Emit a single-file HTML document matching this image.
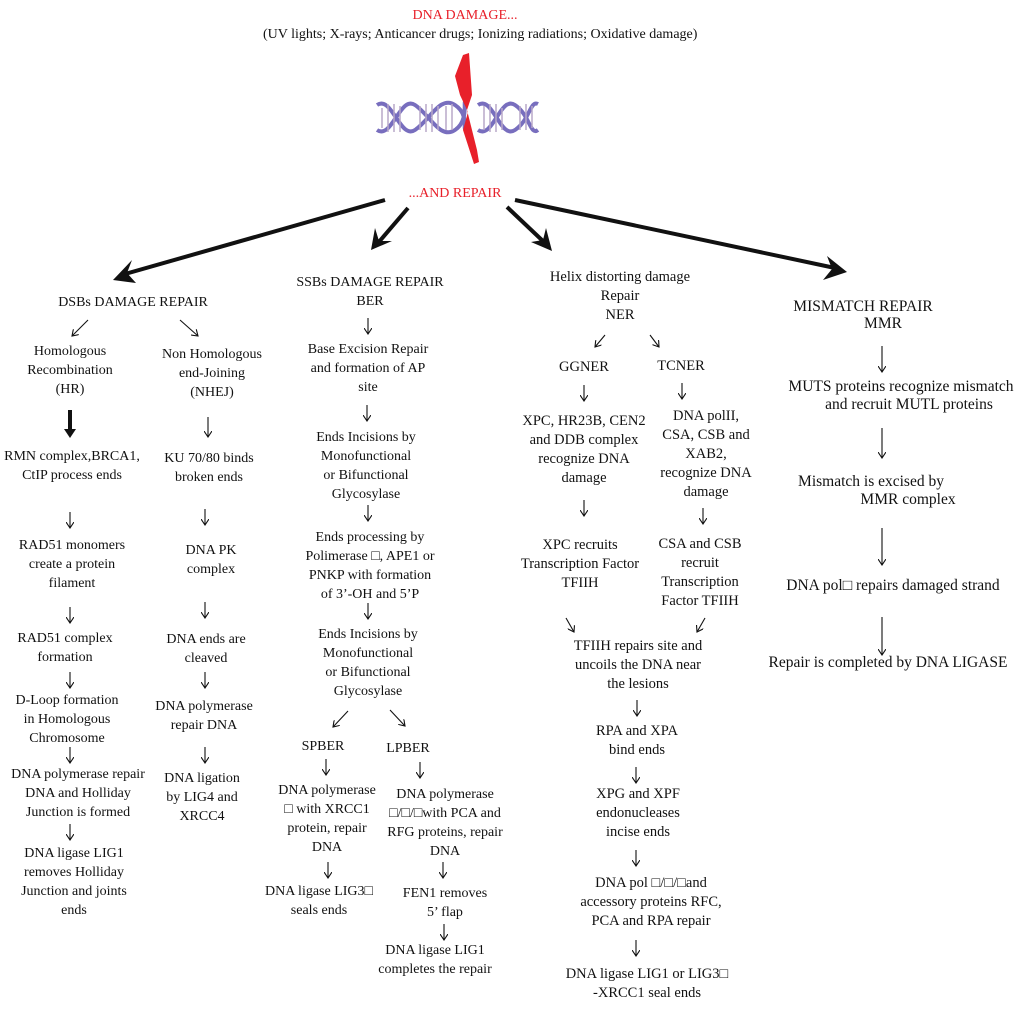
<!DOCTYPE html>
<html><head><meta charset="utf-8"><style>
body{margin:0;background:#fff;}
#c{position:relative;width:1024px;height:1009px;overflow:hidden;font-family:"Liberation Serif",serif;font-size:14px;color:#111;}
.t{position:absolute;width:300px;text-align:center;line-height:19px;white-space:nowrap;}
.m{font-size:15.5px;}
.n{font-size:14.5px;}
svg{position:absolute;left:0;top:0;}
</style></head><body><div id="c">
<svg width="1024" height="1009">
<defs>
<marker id="a" markerWidth="8" markerHeight="8" refX="6" refY="4" orient="auto" markerUnits="userSpaceOnUse"><path d="M0,0 L6,4 L0,8" fill="none" stroke="#111" stroke-width="1.1"/></marker>
</defs>
<g fill="none" stroke-width="4" stroke="#6a5fb8" opacity="0.9">
<path d="M377,105 C392,95 400,140 415,130 S440,95 455,105 S462,132 466,128"/>
<path d="M377,130 C392,140 400,95 415,105 S440,140 455,130 S462,98 466,102"/>
<path d="M478,105 C493,95 500,140 515,130 S530,100 538,104"/>
<path d="M478,130 C493,140 500,95 515,105 S530,136 538,130"/>
</g>
<g stroke="#b8a8c8" stroke-width="1.5">
<path d="M382,108v20M388,104v28M394,104v28M400,106v26M420,106v24M426,104v28M432,104v28M438,106v24M446,106v24M452,104v26M484,106v24M490,104v28M496,104v28M502,108v22M520,106v24M526,104v26M532,106v22"/>
</g>
<polygon points="463,55 469,53 472,95 467,110 477,150 479,162 474,164 463,130 468,112 460,95 455,76" fill="#e8202a"/>
<g stroke="#111" stroke-width="4" fill="none">
<line x1="385" y1="200" x2="125" y2="274"/>
<line x1="408" y1="208" x2="378" y2="243"/>
<line x1="507" y1="207" x2="545" y2="243"/>
<line x1="515" y1="200" x2="835" y2="268"/>
</g>
<g fill="#111">
<polygon points="113,280 132,260 127,273 136,283"/>
<polygon points="371,250 375,228 379,241 392,241"/>
<polygon points="552,251 531,242 543,240 546,228"/>
<polygon points="847,272 823,280 832,269 827,256"/>
</g>
<g stroke="#111" stroke-width="1.1" marker-end="url(#a)">
<line x1="88" y1="320" x2="72" y2="336"/>
<line x1="180" y1="320" x2="198" y2="336"/>
<line x1="208" y1="417" x2="208" y2="437"/>
<line x1="70" y1="512" x2="70" y2="528"/>
<line x1="205" y1="509" x2="205" y2="525"/>
<line x1="70" y1="607" x2="70" y2="623"/>
<line x1="205" y1="602" x2="205" y2="618"/>
<line x1="70" y1="672" x2="70" y2="688"/>
<line x1="205" y1="672" x2="205" y2="688"/>
<line x1="70" y1="747" x2="70" y2="763"/>
<line x1="205" y1="747" x2="205" y2="763"/>
<line x1="70" y1="824" x2="70" y2="840"/>
<line x1="368" y1="318" x2="368" y2="334"/>
<line x1="367" y1="405" x2="367" y2="421"/>
<line x1="368" y1="505" x2="368" y2="521"/>
<line x1="368" y1="603" x2="368" y2="619"/>
<line x1="348" y1="711" x2="333" y2="727"/>
<line x1="390" y1="710" x2="405" y2="726"/>
<line x1="326" y1="759" x2="326" y2="775"/>
<line x1="420" y1="762" x2="420" y2="778"/>
<line x1="328" y1="862" x2="328" y2="878"/>
<line x1="443" y1="862" x2="443" y2="878"/>
<line x1="444" y1="924" x2="444" y2="940"/>
<line x1="605" y1="335" x2="595" y2="347"/>
<line x1="650" y1="335" x2="659" y2="347"/>
<line x1="584" y1="385" x2="584" y2="401"/>
<line x1="682" y1="383" x2="682" y2="399"/>
<line x1="584" y1="500" x2="584" y2="516"/>
<line x1="703" y1="508" x2="703" y2="524"/>
<line x1="566" y1="618" x2="574" y2="632"/>
<line x1="705" y1="618" x2="697" y2="632"/>
<line x1="637" y1="700" x2="637" y2="716"/>
<line x1="636" y1="767" x2="636" y2="783"/>
<line x1="636" y1="850" x2="636" y2="866"/>
<line x1="636" y1="940" x2="636" y2="956"/>
<line x1="882" y1="346" x2="882" y2="372"/>
<line x1="882" y1="428" x2="882" y2="458"/>
<line x1="882" y1="528" x2="882" y2="565"/>
<line x1="882" y1="617" x2="882" y2="655"/>
</g>
<line x1="70" y1="410" x2="70" y2="430" stroke="#111" stroke-width="4"/>
<polygon points="64,429 76,429 70,438" fill="#111"/>
</svg>

<div class="t" style="left:315px;top:6px;color:#e8202a">DNA DAMAGE...</div>
<div class="t" style="left:263px;top:25px;width:400px">(UV lights; X-rays; Anticancer drugs; Ionizing radiations; Oxidative damage)</div>
<div class="t" style="left:305px;top:184px;color:#e8202a">...AND REPAIR</div>

<div class="t" style="left:-17px;top:293px">DSBs DAMAGE REPAIR</div>
<div class="t" style="left:-80px;top:342px">Homologous<br>Recombination<br>(HR)</div>
<div class="t" style="left:62px;top:345px">Non Homologous<br>end-Joining<br>(NHEJ)</div>
<div class="t" style="left:-78px;top:447px">RMN complex,BRCA1,<br>CtIP process ends</div>
<div class="t" style="left:59px;top:449px">KU 70/80 binds<br>broken ends</div>
<div class="t" style="left:-78px;top:536px">RAD51 monomers<br>create a protein<br>filament</div>
<div class="t" style="left:61px;top:541px">DNA PK<br>complex</div>
<div class="t" style="left:-85px;top:629px">RAD51 complex<br>formation</div>
<div class="t" style="left:56px;top:630px">DNA ends are<br>cleaved</div>
<div class="t" style="left:-83px;top:691px">D-Loop formation<br>in Homologous<br>Chromosome</div>
<div class="t" style="left:54px;top:697px">DNA polymerase<br>repair DNA</div>
<div class="t" style="left:-72px;top:765px">DNA polymerase repair<br>DNA and Holliday<br>Junction is formed</div>
<div class="t" style="left:52px;top:769px">DNA ligation<br>by LIG4 and<br>XRCC4</div>
<div class="t" style="left:-76px;top:844px">DNA ligase LIG1<br>removes Holliday<br>Junction and joints<br>ends</div>

<div class="t" style="left:220px;top:273px">SSBs DAMAGE REPAIR<br>BER</div>
<div class="t" style="left:218px;top:340px">Base Excision Repair<br>and formation of AP<br>site</div>
<div class="t" style="left:216px;top:428px">Ends Incisions by<br>Monofunctional<br>or Bifunctional<br>Glycosylase</div>
<div class="t" style="left:220px;top:528px">Ends processing by<br>Polimerase □, APE1 or<br>PNKP with formation<br>of 3’-OH and 5’P</div>
<div class="t" style="left:218px;top:625px">Ends Incisions by<br>Monofunctional<br>or Bifunctional<br>Glycosylase</div>
<div class="t" style="left:173px;top:737px">SPBER</div>
<div class="t" style="left:258px;top:739px">LPBER</div>
<div class="t" style="left:177px;top:781px">DNA polymerase<br>□ with XRCC1<br>protein, repair<br>DNA</div>
<div class="t" style="left:295px;top:785px">DNA polymerase<br>□/□/□with PCA and<br>RFG proteins, repair<br>DNA</div>
<div class="t" style="left:169px;top:882px">DNA ligase LIG3□<br>seals ends</div>
<div class="t" style="left:295px;top:884px">FEN1 removes<br>5’ flap</div>
<div class="t" style="left:285px;top:941px">DNA ligase LIG1<br>completes the repair</div>

<div class="t n" style="left:470px;top:268px">Helix distorting damage<br>Repair<br>NER</div>
<div class="t n" style="left:434px;top:358px">GGNER</div>
<div class="t n" style="left:531px;top:357px">TCNER</div>
<div class="t n" style="left:434px;top:412px">XPC, HR23B, CEN2<br>and DDB complex<br>recognize DNA<br>damage</div>
<div class="t n" style="left:556px;top:407px">DNA polII,<br>CSA, CSB and<br>XAB2,<br>recognize DNA<br>damage</div>
<div class="t n" style="left:430px;top:536px">XPC recruits<br>Transcription Factor<br>TFIIH</div>
<div class="t n" style="left:550px;top:535px">CSA and CSB<br>recruit<br>Transcription<br>Factor TFIIH</div>
<div class="t n" style="left:488px;top:637px">TFIIH repairs site and<br>uncoils the DNA near<br>the lesions</div>
<div class="t n" style="left:487px;top:722px">RPA and XPA<br>bind ends</div>
<div class="t n" style="left:488px;top:785px">XPG and XPF<br>endonucleases<br>incise ends</div>
<div class="t n" style="left:501px;top:874px">DNA pol □/□/□and<br>accessory proteins RFC,<br>PCA and RPA repair</div>
<div class="t n" style="left:497px;top:965px">DNA ligase LIG1 or LIG3□<br>-XRCC1 seal ends</div>

<div class="t m" style="left:713px;top:297px">MISMATCH REPAIR</div>
<div class="t m" style="left:733px;top:314px">MMR</div>
<div class="t m" style="left:751px;top:377px">MUTS proteins recognize mismatch</div>
<div class="t m" style="left:759px;top:395px">and recruit MUTL proteins</div>
<div class="t m" style="left:721px;top:472px">Mismatch is excised by</div>
<div class="t m" style="left:758px;top:490px">MMR complex</div>
<div class="t m" style="left:743px;top:576px">DNA pol□ repairs damaged strand</div>
<div class="t m" style="left:738px;top:653px">Repair is completed by DNA LIGASE</div>
</div></body></html>
